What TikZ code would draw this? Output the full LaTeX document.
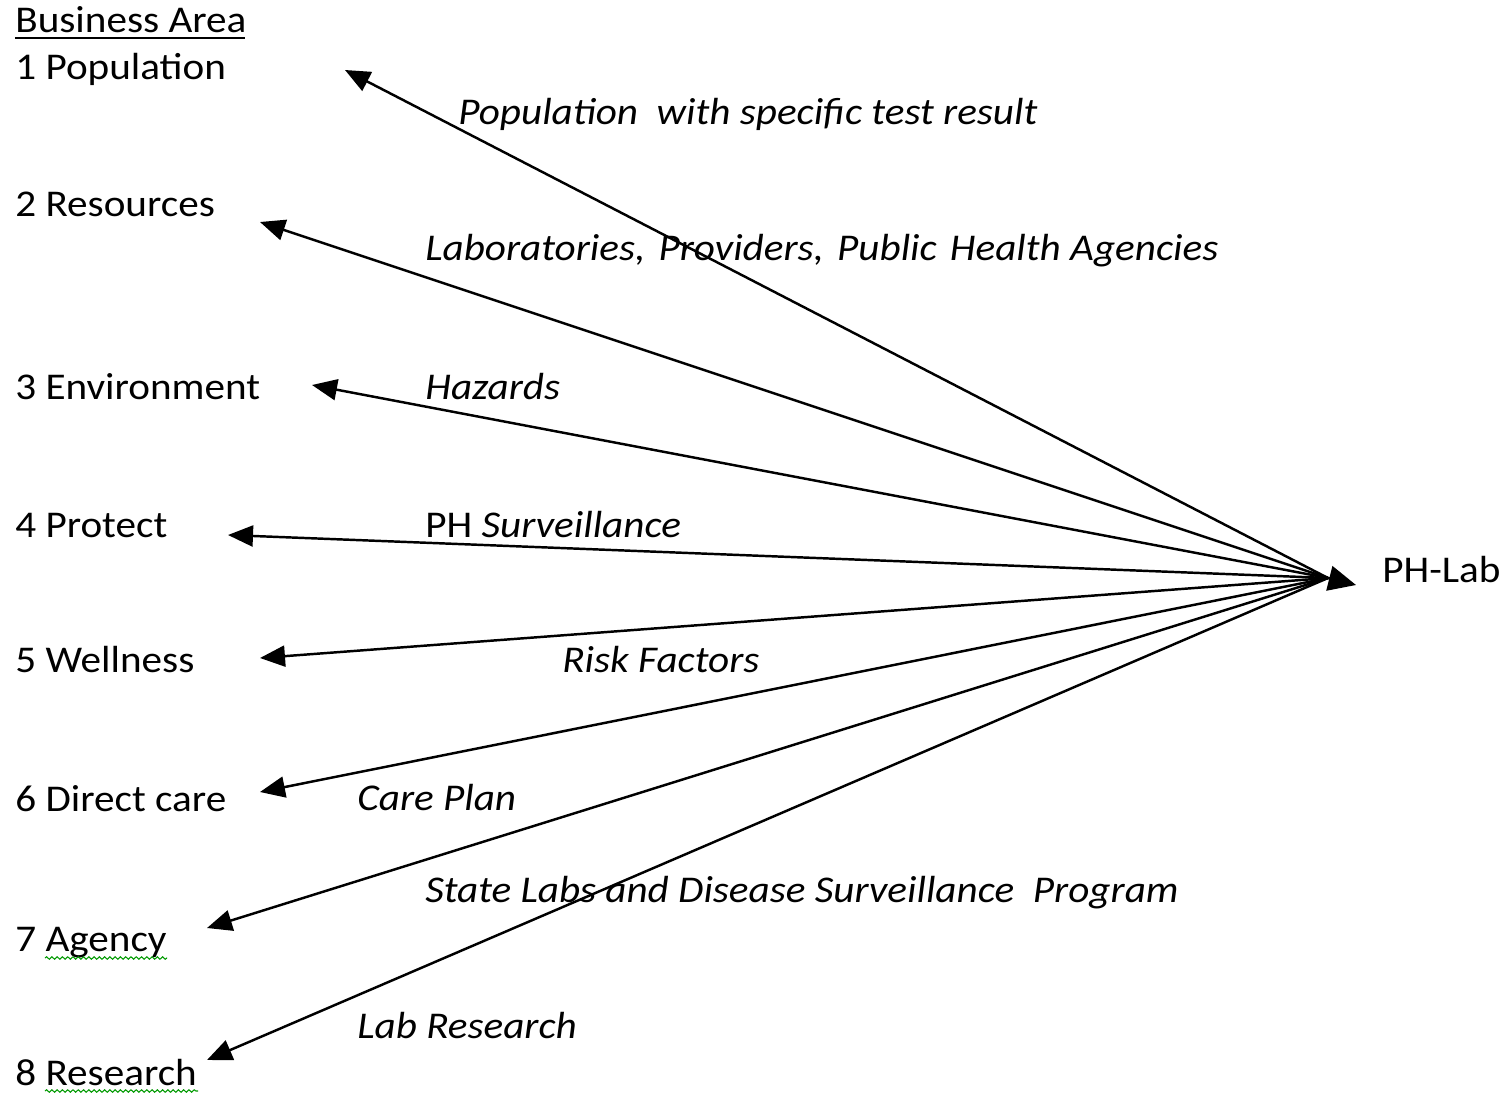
\documentclass[tikz,border=0pt]{standalone}
\usepackage{fontspec}
\setmainfont{Carlito}[FakeStretch=1.09]
\usetikzlibrary{arrows.meta,decorations.pathmorphing}
\begin{document}
\begin{tikzpicture}[x=0.02cm,y=-0.02cm,
  lbl/.style={anchor=base west,inner sep=0pt,font=\fontsize{21.5}{25}\selectfont},
  elbl/.style={anchor=base west,inner sep=0pt,font=\fontsize{21.5}{25}\selectfont\itshape},
  conn/.style={line width=1.4pt,-{Triangle[length=0.5cm,width=0.42cm]}},
  spell/.style={draw=green!60!black,line width=0.6pt,decorate,decoration={snake,amplitude=0.7pt,segment length=3pt}}]
\useasboundingbox (0,0) rectangle (1509,1093);
% left labels
\node[lbl] (ba) at (15,32) {Business Area};
\draw[line width=1.3pt] (15,38) -- (245,38);
\node[lbl] (n1) at (15,79) {1 Population};
\node[lbl] (n2) at (15,216) {2 Resources};
\node[lbl] (n3) at (15,399) {3 Environment};
\node[lbl] (n4) at (15,537) {4 Protect};
\node[lbl] (n5) at (15,672) {5 Wellness};
\node[lbl] (n6) at (15,811) {6 Direct care};
\node[lbl] (n7) at (15,951) {7 Agency};
\node[lbl] (n8) at (15,1085) {8 Research};
\draw[spell] (45,958) -- (167,958);
\draw[spell] (45,1091) -- (198,1091);
\node[lbl] (ph) at (1382,582) {PH-Lab};
% coordinates
\coordinate (hub) at (1328,578);
\coordinate (hubtip) at (1356,585);
\coordinate (t1) at (345,70);
\coordinate (t2) at (260,222);
\coordinate (t3) at (312,385);
\coordinate (t4) at (228,535);
\coordinate (t5) at (260,658);
\coordinate (t6) at (260,792);
\coordinate (t7) at (207,928);
\coordinate (t8) at (207,1060);
% connectors
\draw[conn] (hub) -- (t1);
\draw[conn] (hub) -- (t2);
\draw[conn] (hub) -- (t3);
\draw[conn] (hub) -- (t4);
\draw[conn] (hub) -- (t5);
\draw[conn] (hub) -- (t6);
\draw[conn] (hub) -- (t7);
\draw[conn] (hub) -- (t8);
\draw[line width=1.4pt,-{Triangle[length=0.55cm,width=0.5cm]}] (hub) -- (hubtip);
% edge labels
\node[elbl] (e1) at (458,124) {Population\ \ with specific test result};
\node[elbl] (e2) at (425,260) {Laboratories,\hspace{0.35em}Providers,\hspace{0.35em}Public\hspace{0.35em}Health Agencies};
\node[elbl] (e3) at (425,399) {Hazards};
\node[lbl] (e4) at (425,537) {PH \textit{Surveillance}};
\node[elbl] (e5) at (562,672) {Risk Factors};
\node[elbl] (e6) at (357,810) {Care Plan};
\node[elbl] (e7) at (425,902) {State Labs and Disease Surveillance\ \ Program};
\node[elbl] (e8) at (357,1038) {Lab Research};
\end{tikzpicture}
\end{document}
